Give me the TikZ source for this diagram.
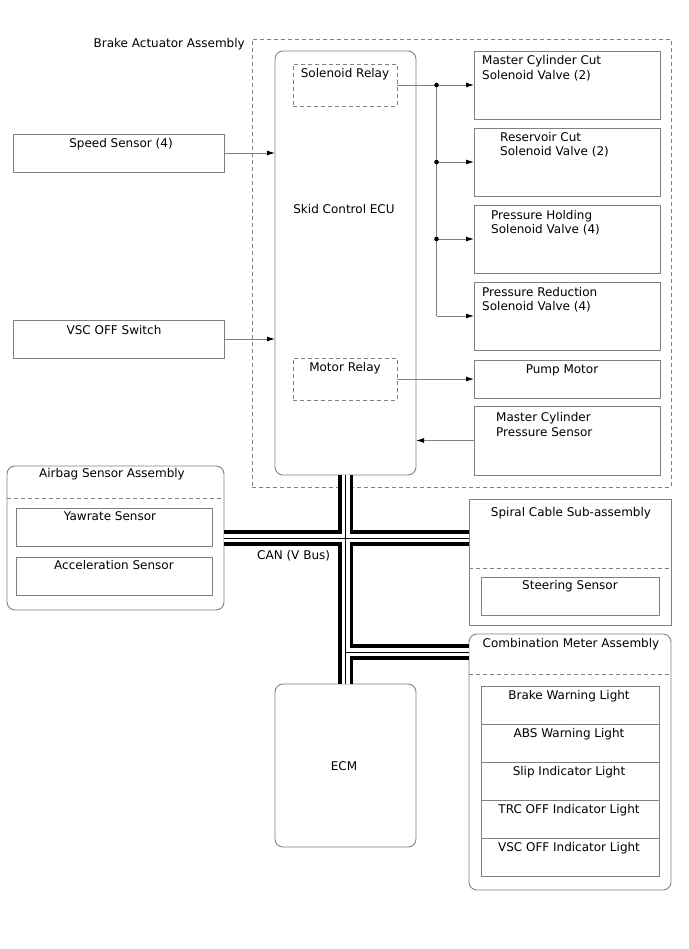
\documentclass[tikz,border=0pt]{standalone}
\usepackage{fontspec}
\setmainfont{DejaVu Sans}
\usepackage{tikz}
\usetikzlibrary{arrows.meta,positioning}
\definecolor{boxgray}{RGB}{128,128,128}

\begin{document}
\begin{tikzpicture}[x=1pt, y=-1pt,
  box/.style={draw=boxgray, line width=0.9pt, rectangle, inner sep=0pt, outer sep=0pt, anchor=north west},
  rbox/.style={box, rounded corners=8pt},
  dbox/.style={box, dash pattern=on 4pt off 3pt},
  size/.style 2 args={minimum width=#1, minimum height=#2},
  txt/.style={inner sep=0pt, font=\fontsize{12}{14.5}\selectfont, align=left},
  dline/.style={draw=boxgray, line width=0.9pt, dash pattern=on 4pt off 3pt},
  arrow/.style={draw=boxgray, line width=0.9pt, -{Latex[length=8pt, width=5pt, color=black]}}
]
\useasboundingbox (0,0) rectangle (688,949);

% Brake actuator assembly
\node[dbox, size={419}{448}] (act) at (252,39) {};
\node[txt, anchor=base east] (acttxt) at (245,48) {Brake Actuator Assembly};

\node[rbox, size={141}{424}] (ecu) at (275,51) {};
\node[txt, anchor=base] (ecutxt) at (344,214) {Skid Control ECU};
\node[dbox, size={104}{42}] (solrel) at (293,64) {};
\node[txt, anchor=base] (solreltxt) at (345,77.5) {Solenoid Relay};
\node[dbox, size={104}{42}] (motrel) at (293,358) {};
\node[txt, anchor=base] (motreltxt) at (345,371) {Motor Relay};

% Valves, motor, sensor
\node[box, size={186}{68}] (mcc) at (474,51) {};
\node[txt, anchor=north west] (mcctxt) at (482,55.3) {Master Cylinder Cut\\Solenoid Valve (2)};
\node[box, size={186}{68}] (res) at (474,128) {};
\node[txt, anchor=north west] (restxt) at (500,131.8) {Reservoir Cut\\Solenoid Valve (2)};
\node[box, size={186}{68}] (hold) at (474,205) {};
\node[txt, anchor=north west] (holdtxt) at (491,209.8) {Pressure Holding\\Solenoid Valve (4)};
\node[box, size={186}{68}] (red) at (474,282) {};
\node[txt, anchor=north west] (redtxt) at (482,286.8) {Pressure Reduction\\Solenoid Valve (4)};
\node[box, size={186}{38}] (pump) at (474,360) {};
\node[txt, anchor=base] (pumptxt) at (562,373) {Pump Motor};
\node[box, size={186}{69}] (mcps) at (474,406) {};
\node[txt, anchor=north west] (mcpstxt) at (496,412.5) {Master Cylinder\\Pressure Sensor};

% Inputs on the left
\node[box, size={211}{38}] (speed) at (13,134) {};
\node[txt, anchor=base] (speedtxt) at (121,148) {Speed Sensor (4)};
\node[box, size={211}{38}] (vsc) at (13,320) {};
\node[txt, anchor=base] (vsctxt) at (114,334) {VSC OFF Switch};

% Airbag sensor assembly
\node[rbox, size={217}{144}] (airbag) at (7,466) {};
\node[txt, anchor=base] (airbagtxt) at (112,477) {Airbag Sensor Assembly};
\draw[dline] (airbag.west |- 0,498) -- (airbag.east |- 0,498);
\node[box, size={196}{38}] (yaw) at (16,508) {};
\node[txt, anchor=base] (yawtxt) at (110,520) {Yawrate Sensor};
\node[box, size={196}{38}] (accel) at (16,557) {};
\node[txt, anchor=base] (acceltxt) at (114,569.3) {Acceleration Sensor};

% Spiral cable
\node[box, size={202}{126}] (spiral) at (469,499) {};
\node[txt, anchor=base] (spiraltxt) at (571,516) {Spiral Cable Sub-assembly};
\draw[dline] (spiral.west |- 0,568) -- (spiral.east |- 0,568);
\node[box, size={178}{38}] (steer) at (481,577) {};
\node[txt, anchor=base] (steertxt) at (570,589) {Steering Sensor};

% Combination meter
\node[rbox, size={202}{256}] (combo) at (469,634) {};
\node[txt, anchor=base] (combotxt) at (571,647.3) {Combination Meter Assembly};
\draw[dline] (combo.west |- 0,674.5) -- (combo.east |- 0,674.5);
\foreach \lt [count=\i from 0] in {Brake Warning Light, ABS Warning Light, Slip Indicator Light, TRC OFF Indicator Light, VSC OFF Indicator Light} {
  \node[box, size={178}{38}] (lamp\i) at (481,686+38*\i) {};
  \node[txt, anchor=base] (lamptxt\i) at (569,699+38*\i) {\lt};
}

% ECM
\node[rbox, size={141}{163}] (ecm) at (275,684) {};
\node[txt] (ecmtxt) at (344,766) {ECM};

% Solenoid relay outputs
\coordinate (j1) at (436.5,85);
\coordinate (j2) at (436.5,162);
\coordinate (j3) at (436.5,239);
\coordinate (j4) at (436.5,316);
\draw[arrow] (solrel) -- (mcc);
\draw[draw=boxgray, line width=0.9pt] (j1) -- (j4);
\draw[arrow] (j2) -- (res);
\draw[arrow] (j3) -- (hold);
\draw[arrow] (j4) -- (red);
\foreach \j in {j1,j2,j3} \fill (\j) circle (2.3);

\draw[arrow] (motrel) -- (pump);
\draw[arrow] (mcps) -- (mcps -| ecu.east);
\draw[arrow] (speed) -- (speed -| ecu.west);
\draw[arrow] (vsc) -- (vsc -| ecu.west);

% CAN bus
\coordinate (canjoin) at (345.5,652);
\foreach \w/\c in {15.5pt/black, 8pt/white, 1pt/black} {
  \draw[line width=\w, \c] (ecu.south) -- (ecm.north);
  \draw[line width=\w, \c] (airbag.east) -- (airbag.east -| spiral.west);
  \draw[line width=\w, \c] (canjoin) -- (canjoin -| combo.west);
}
\node[txt, anchor=base west] (cantxt) at (257,559) {CAN (V Bus)};

\end{tikzpicture}
\end{document}
